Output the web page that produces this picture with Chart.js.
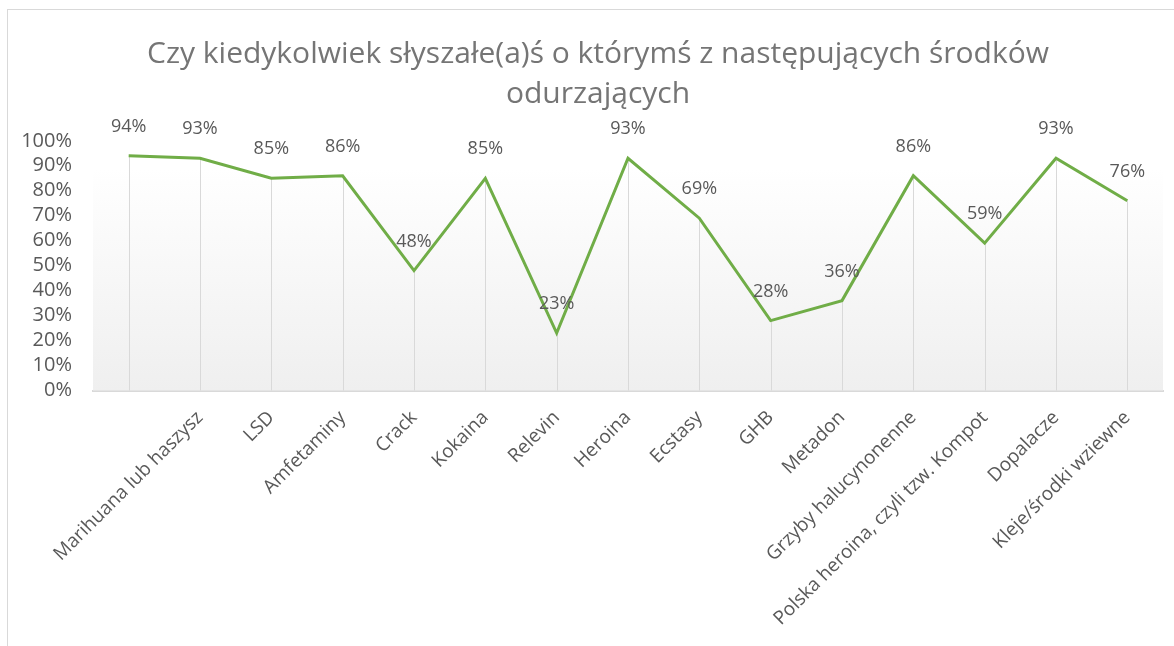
<!DOCTYPE html>
<html>
<head>
<meta charset="utf-8">
<script src="https://cdn.jsdelivr.net/npm/chart.js@4"></script>
<style>
  html, body { margin: 0; padding: 0; background: #fff; overflow: hidden; }
  #frame { position: absolute; left: 7px; top: 9px; width: 1180px; height: 640px; border: 1px solid #d9d9d9; }
  #chart { display: block; }
</style>
</head>
<body>
<div id="frame"><canvas id="chart" width="1180" height="640"></canvas></div>
<script>
// data
const categories = ["", "Marihuana lub haszysz", "LSD", "Amfetaminy", "Crack", "Kokaina", "Relevin",
  "Heroina", "Ecstasy", "GHB", "Metadon", "Grzyby halucynonenne", "Polska heroina, czyli tzw. Kompot",
  "Dopalacze", "Kleje/środki wziewne"];
const values = [94, 93, 85, 86, 48, 85, 23, 93, 69, 28, 36, 86, 59, 93, 76];
const titleLines = ["Czy kiedykolwiek słyszałe(a)ś o którymś z następujących środków", "odurzających"];

const FONT = "'Open Sans', sans-serif";
const GREY = "#595959";

// gradient behind the plot + drop lines from each point
const backdrop = {
  id: "backdrop",
  afterLayout(chart) {
    // y labels stick out past the left padding, don't let the scale clip them
    chart.scales.y.left = 0;
  },
  beforeDatasetsDraw(chart) {
    const { ctx, chartArea: a } = chart;
    const top = a.top + (a.bottom - a.top) * 0.11;
    const g = ctx.createLinearGradient(0, top, 0, a.bottom);
    g.addColorStop(0, "#ffffff");
    g.addColorStop(1, "#efefef");
    ctx.save();
    ctx.fillStyle = g;
    ctx.fillRect(a.left, top, a.right - a.left, a.bottom - top);
    ctx.strokeStyle = "#d9d9d9";
    ctx.lineWidth = 1;
    chart.getDatasetMeta(0).data.forEach(p => {
      ctx.beginPath();
      ctx.moveTo(Math.round(p.x) + 0.5, p.y);
      ctx.lineTo(Math.round(p.x) + 0.5, a.bottom);
      ctx.stroke();
    });
    ctx.restore();
  }
};

// value labels above the points
const valueLabels = {
  id: "valueLabels",
  afterDatasetsDraw(chart) {
    const ctx = chart.ctx;
    ctx.save();
    ctx.font = "18px " + FONT;
    ctx.fillStyle = GREY;
    ctx.textAlign = "center";
    ctx.textBaseline = "middle";
    chart.getDatasetMeta(0).data.forEach((p, i) => {
      ctx.fillText(values[i] + "%", p.x, p.y - 29);
    });
    ctx.restore();
  }
};

new Chart(document.getElementById("chart"), {
  type: "line",
  data: {
    labels: categories,
    datasets: [{
      data: values,
      borderColor: "#70ad47",
      borderWidth: 3,
      pointRadius: 0,
      tension: 0,
      fill: false
    }]
  },
  options: {
    responsive: false,
    animation: false,
    layout: { padding: { left: 25, right: 25, top: 0, bottom: 0 } },
    plugins: {
      legend: { display: false },
      tooltip: { enabled: false },
      title: {
        display: true,
        text: titleLines,
        color: "#757575",
        font: { family: FONT, size: 30, weight: "normal", lineHeight: 40 / 30 },
        padding: { top: 24, bottom: 26.8 }
      }
    },
    scales: {
      x: {
        offset: true,
        grid: { display: false, drawTicks: false },
        border: { display: true, color: "#d9d9d9", width: 2 },
        ticks: {
          autoSkip: false, minRotation: 45, maxRotation: 45,
          color: GREY, font: { family: FONT, size: 19 }, padding: 16
        },
        afterFit(scale) { scale.height = 259.5; }
      },
      y: {
        min: 0, max: 100,
        grid: { display: false, drawTicks: false },
        border: { display: false },
        ticks: {
          autoSkip: false, stepSize: 10, color: GREY, font: { family: FONT, size: 20 }, padding: 21,
          callback: v => v + "%"
        },
        afterFit(scale) { scale.width = 60; }
      }
    }
  },
  plugins: [backdrop, valueLabels]
});
</script>
</body>
</html>
